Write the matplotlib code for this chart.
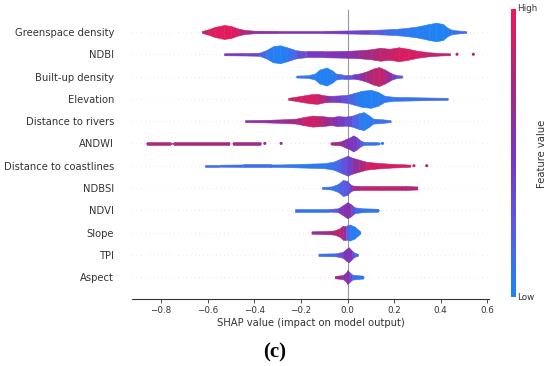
import matplotlib
matplotlib.use('Agg')
import matplotlib.pyplot as plt
from matplotlib.colors import LinearSegmentedColormap
import numpy as np

# Features, du haut vers le bas
features = ['Greenspace density', 'NDBI', 'Built-up density', 'Elevation',
            'Distance to rivers', 'ANDWI', 'Distance to coastlines', 'NDBSI',
            'NDVI', 'Slope', 'TPI', 'Aspect']

# Profil de chaque essaim : valeur SHAP, demi-epaisseur (px), valeur de la feature (0 bas, 1 haut)
greenspace_x = [-0.625, -0.60, -0.57, -0.53, -0.50, -0.47, -0.44, -0.40, -0.30, -0.10, 0.0, 0.10, 0.15, 0.20, 0.25, 0.30, 0.35, 0.38, 0.41, 0.43, 0.45, 0.50, 0.51]
greenspace_w = [1.0, 2.5, 5.0, 7.0, 6.0, 3.5, 2.0, 1.3, 1.2, 1.2, 1.5, 2.0, 2.5, 3.0, 4.0, 5.5, 8.0, 9.3, 8.0, 4.0, 2.0, 1.0, 0.8]
greenspace_c = [0.8, 0.9, 0.95, 0.95, 0.95, 0.9, 0.7, 0.6, 0.55, 0.5, 0.45, 0.3, 0.2, 0.1, 0.08, 0.05, 0.03, 0.02, 0.03, 0.05, 0.1, 0.15, 0.2]

ndbi_x = [-0.53, -0.45, -0.38, -0.35, -0.32, -0.29, -0.26, -0.22, -0.18, -0.10, 0.0, 0.05, 0.10, 0.14, 0.18, 0.22, 0.26, 0.30, 0.35, 0.40, 0.44]
ndbi_w = [1.0, 1.2, 1.5, 4.0, 8.0, 9.0, 7.0, 4.0, 3.0, 3.0, 3.5, 4.0, 5.0, 6.5, 5.5, 7.0, 5.5, 3.5, 2.0, 1.2, 1.0]
ndbi_c = [0.5, 0.45, 0.3, 0.1, 0.05, 0.03, 0.05, 0.2, 0.45, 0.5, 0.55, 0.65, 0.75, 0.8, 0.85, 0.92, 0.92, 0.9, 0.85, 0.8, 0.8]
ndbi_dots_x = [0.47, 0.54]
ndbi_dots_c = [0.8, 0.8]

builtup_x = [-0.22, -0.17, -0.14, -0.12, -0.09, -0.065, -0.05, -0.02, 0.02, 0.05, 0.08, 0.11, 0.135, 0.16, 0.19, 0.21, 0.235]
builtup_w = [1.0, 1.3, 3.0, 7.0, 9.0, 6.0, 3.0, 2.0, 2.0, 3.0, 5.0, 8.0, 9.5, 7.0, 3.0, 1.5, 1.0]
builtup_c = [0.1, 0.08, 0.05, 0.03, 0.03, 0.05, 0.1, 0.2, 0.35, 0.55, 0.7, 0.8, 0.85, 0.8, 0.55, 0.3, 0.2]

elevation_x = [-0.255, -0.23, -0.20, -0.16, -0.13, -0.10, -0.07, -0.03, 0.0, 0.03, 0.06, 0.10, 0.13, 0.16, 0.20, 0.30, 0.43]
elevation_w = [1.0, 1.8, 3.0, 4.5, 5.0, 3.5, 3.0, 3.5, 4.0, 6.0, 8.0, 9.0, 7.0, 3.0, 2.0, 1.5, 1.0]
elevation_c = [0.8, 0.85, 0.9, 0.92, 0.9, 0.75, 0.5, 0.35, 0.3, 0.1, 0.05, 0.03, 0.05, 0.08, 0.1, 0.12, 0.15]

rivers_x = [-0.44, -0.35, -0.28, -0.22, -0.19, -0.15, -0.11, -0.07, -0.04, -0.01, 0.02, 0.05, 0.07, 0.09, 0.11, 0.15, 0.185]
rivers_w = [1.0, 1.3, 1.8, 2.5, 4.0, 5.5, 5.0, 4.0, 5.0, 4.5, 5.5, 8.0, 9.0, 6.0, 2.5, 1.8, 1.0]
rivers_c = [0.6, 0.6, 0.65, 0.75, 0.85, 0.9, 0.8, 0.6, 0.5, 0.4, 0.3, 0.08, 0.05, 0.05, 0.1, 0.12, 0.15]

andwi_x = [-0.865, -0.86, -0.76, -0.755, -0.745, -0.51, -0.505, -0.495, -0.49, -0.375, -0.37,
           -0.075, -0.07, -0.03, -0.01, 0.01, 0.025, 0.04, 0.055, 0.07, 0.12, 0.135, 0.14]
andwi_w = [0.0, 1.3, 1.3, 0.0, 1.3, 1.3, 0.0, 0.0, 1.3, 1.3, 0.0,
           0.0, 1.2, 2.0, 4.0, 6.0, 8.0, 6.0, 3.0, 1.5, 1.3, 1.0, 0.0]
andwi_c = [0.8, 0.8, 0.75, 0.75, 0.75, 0.7, 0.7, 0.7, 0.7, 0.68, 0.68,
           0.8, 0.8, 0.65, 0.55, 0.5, 0.5, 0.45, 0.3, 0.15, 0.1, 0.1, 0.1]
andwi_dots_x = [-0.355, -0.285, 0.15]
andwi_dots_c = [0.68, 0.68, 0.1]

coast_x = [-0.61, -0.55, -0.45, -0.33, -0.28, -0.20, -0.10, -0.06, -0.03, 0.0, 0.02, 0.05, 0.08, 0.12, 0.18, 0.25, 0.27]
coast_w = [1.0, 1.0, 1.2, 1.2, 1.3, 1.8, 2.5, 4.0, 7.0, 10.0, 8.0, 6.0, 4.0, 3.0, 2.0, 1.3, 1.0]
coast_c = [0.15, 0.15, 0.15, 0.12, 0.1, 0.08, 0.08, 0.1, 0.25, 0.35, 0.5, 0.7, 0.85, 0.9, 0.9, 0.9, 0.85]
coast_dots_x = [0.285, 0.34]
coast_dots_c = [0.8, 0.75]

ndbsi_x = [-0.11, -0.07, -0.04, -0.02, 0.0, 0.01, 0.02, 0.05, 0.15, 0.25, 0.30]
ndbsi_w = [1.0, 1.5, 4.0, 8.0, 7.0, 4.0, 2.5, 2.0, 2.0, 2.0, 1.5]
ndbsi_c = [0.15, 0.1, 0.1, 0.3, 0.2, 0.4, 0.6, 0.8, 0.82, 0.8, 0.75]

ndvi_x = [-0.225, -0.08, -0.04, -0.02, 0.0, 0.015, 0.03, 0.06, 0.13, 0.135]
ndvi_w = [1.3, 1.3, 2.0, 5.0, 8.0, 6.0, 3.0, 2.0, 1.5, 0.0]
ndvi_c = [0.1, 0.1, 0.4, 0.55, 0.6, 0.5, 0.2, 0.1, 0.1, 0.1]

slope_x = [-0.155, -0.10, -0.06, -0.035, -0.02, -0.005, 0.01, 0.03, 0.045, 0.055]
slope_w = [1.2, 1.5, 2.0, 4.0, 7.0, 7.0, 8.0, 6.0, 3.0, 1.0]
slope_c = [0.6, 0.7, 0.75, 0.85, 0.85, 0.3, 0.08, 0.05, 0.08, 0.1]

tpi_x = [-0.125, -0.05, -0.02, -0.005, 0.005, 0.02, 0.03, 0.045]
tpi_w = [1.2, 1.5, 3.0, 6.0, 7.5, 4.0, 2.0, 1.0]
tpi_c = [0.1, 0.15, 0.45, 0.55, 0.55, 0.45, 0.2, 0.1]

aspect_x = [-0.055, -0.02, -0.005, 0.0, 0.008, 0.02, 0.04, 0.065, 0.07]
aspect_w = [1.2, 2.0, 5.0, 7.0, 5.0, 2.5, 2.0, 1.5, 0.0]
aspect_c = [0.8, 0.6, 0.55, 0.55, 0.5, 0.2, 0.1, 0.1, 0.1]

profiles = [
    (greenspace_x, greenspace_w, greenspace_c, [], []),
    (ndbi_x, ndbi_w, ndbi_c, ndbi_dots_x, ndbi_dots_c),
    (builtup_x, builtup_w, builtup_c, [], []),
    (elevation_x, elevation_w, elevation_c, [], []),
    (rivers_x, rivers_w, rivers_c, [], []),
    (andwi_x, andwi_w, andwi_c, andwi_dots_x, andwi_dots_c),
    (coast_x, coast_w, coast_c, coast_dots_x, coast_dots_c),
    (ndbsi_x, ndbsi_w, ndbsi_c, [], []),
    (ndvi_x, ndvi_w, ndvi_c, [], []),
    (slope_x, slope_w, slope_c, [], []),
    (tpi_x, tpi_w, tpi_c, [], []),
    (aspect_x, aspect_w, aspect_c, [], []),
]

# Palette rouge/bleu facon SHAP
cmap = LinearSegmentedColormap.from_list(
    'red_blue', ['#1a87f5', '#5b5ae0', '#7b34bc', '#a82a7c', '#f01756'])
axis_color = '#333333'
px_per_row = 22.3  # hauteur d'une ligne en pixels

fig = plt.figure(figsize=(5.5, 3.66), dpi=100)
ax = fig.add_axes([0.24, 0.182, 0.649, 0.7915])

n = len(features)
for i, (xs, ws, cs, dx, dc) in enumerate(profiles):
    y = n - 1 - i
    ax.axhline(y, color='#cccccc', lw=0.5, dashes=(1, 5), zorder=-1)
    for j in range(len(xs) - 1):
        if ws[j] == 0 and ws[j + 1] == 0:
            continue
        col = cmap((cs[j] + cs[j + 1]) / 2)
        h = np.array([ws[j], ws[j + 1]]) / px_per_row
        ax.fill_between([xs[j], xs[j + 1]], y - h, y + h, facecolor=col,
                        edgecolor=col, lw=0.4, zorder=3)
    if dx:
        ax.scatter(dx, [y] * len(dx), c=[cmap(v) for v in dc], s=5, lw=0, zorder=3)

ax.axvline(0, color='#999999', lw=0.8, zorder=2)

ax.set_xlim(-0.925, 0.607)
ax.set_ylim(-1, n)
ax.set_yticks(range(n))
ax.set_yticklabels(features[::-1], fontsize=7.2, color=axis_color)
ax.tick_params('y', length=0, pad=13)
ax.set_xticks([-0.8, -0.6, -0.4, -0.2, 0.0, 0.2, 0.4, 0.6])
ax.tick_params('x', labelsize=6.3, color=axis_color, labelcolor=axis_color,
               length=3, width=0.6, pad=2)
ax.set_xlabel('SHAP value (impact on model output)', fontsize=7.2,
              color=axis_color, labelpad=2)
for s in ['left', 'right', 'top']:
    ax.spines[s].set_visible(False)
ax.spines['bottom'].set_color(axis_color)
ax.spines['bottom'].set_linewidth(0.8)

# Barre de couleur
cax = fig.add_axes([0.929, 0.1885, 0.0073, 0.787])
grad = np.linspace(0, 1, 256).reshape(-1, 1)
cax.imshow(grad, aspect='auto', cmap=cmap, origin='lower', extent=[0, 1, 0, 1])
cax.set_xticks([])
cax.set_yticks([])
for s in cax.spines.values():
    s.set_visible(False)
cax.text(1.6, 1.0, 'High', transform=cax.transAxes, fontsize=6.3,
         color=axis_color, va='center', ha='left')
cax.text(1.6, 0.0, 'Low', transform=cax.transAxes, fontsize=6.3,
         color=axis_color, va='center', ha='left')
fig.text(0.985, 0.58, 'Feature value', rotation=90, fontsize=7.2,
         color=axis_color, va='center', ha='center')

fig.text(0.5, 0.038, '(c)', fontsize=15, fontweight='bold',
         family='Liberation Serif', ha='center', va='center')

fig.savefig('out.png', dpi=100)
